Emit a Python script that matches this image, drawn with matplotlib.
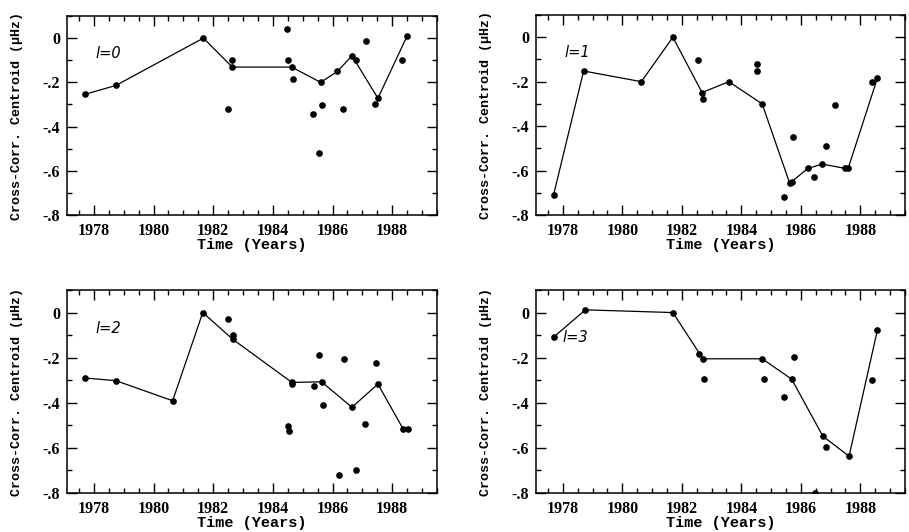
import matplotlib
matplotlib.use("Agg")
import matplotlib.pyplot as plt
from matplotlib.ticker import MultipleLocator, FixedLocator, FixedFormatter

# ---------------- data ----------------
labels = ["l=0", "l=1", "l=2", "l=3"]

l0_line_x = [1977.71, 1978.74, 1981.67, 1982.64, 1984.63, 1985.60, 1986.16, 1986.65, 1987.52, 1988.50]
l0_line_y = [-0.254, -0.214, 0.0, -0.131, -0.131, -0.20, -0.151, -0.08, -0.272, 0.01]
l0_pts_x = [1982.51, 1982.64, 1984.48, 1984.51, 1984.66, 1985.35, 1985.54, 1985.66,
            1986.35, 1986.77, 1987.11, 1987.41, 1988.34]
l0_pts_y = [-0.322, -0.10, 0.041, -0.10, -0.183, -0.341, -0.521, -0.302,
            -0.322, -0.10, -0.011, -0.299, -0.10]

l1_line_x = [1977.69, 1978.70, 1980.64, 1981.70, 1982.68, 1983.58, 1984.70, 1985.62, 1985.69,
             1986.24, 1986.72, 1987.48, 1987.59, 1988.57]
l1_line_y = [-0.71, -0.152, -0.20, 0.0, -0.249, -0.20, -0.30, -0.655, -0.65,
             -0.59, -0.571, -0.59, -0.59, -0.185]
l1_pts_x = [1982.55, 1982.71, 1984.52, 1984.54, 1985.43, 1985.73, 1986.44, 1986.83, 1987.14, 1988.38]
l1_pts_y = [-0.102, -0.28, -0.122, -0.152, -0.718, -0.45, -0.63, -0.49, -0.305, -0.20]

l2_line_x = [1977.69, 1978.74, 1980.64, 1981.65, 1982.66, 1984.64, 1985.63, 1986.65, 1987.52,
             1988.36, 1988.52]
l2_line_y = [-0.29, -0.302, -0.391, 0.0, -0.119, -0.31, -0.307, -0.42, -0.317, -0.515, -0.515]
l2_pts_x = [1982.50, 1982.66, 1984.49, 1984.54, 1984.64, 1985.37, 1985.54, 1985.67,
            1986.21, 1986.37, 1986.79, 1987.10, 1987.44]
l2_pts_y = [-0.03, -0.098, -0.503, -0.525, -0.317, -0.327, -0.1875, -0.408,
            -0.719, -0.208, -0.70, -0.496, -0.225]

l3_line_x = [1977.71, 1978.76, 1981.70, 1982.71, 1984.70, 1985.69, 1986.74, 1987.62, 1988.57]
l3_line_y = [-0.107, 0.012, 0.0, -0.205, -0.205, -0.295, -0.548, -0.637, -0.079]
l3_pts_x = [1982.57, 1982.73, 1984.75, 1985.43, 1985.77, 1986.47, 1986.86, 1988.40]
l3_pts_y = [-0.183, -0.295, -0.295, -0.376, -0.196, -0.80, -0.598, -0.298]

xtick_vals = [1978, 1980, 1982, 1984, 1986, 1988]
xtick_labels = ["1978", "1980", "1982", "1984", "1986", "1988"]
ytick_vals = [0.0, -0.2, -0.4, -0.6, -0.8]
ytick_labels = ["0", "-.2", "-.4", "-.6", "-.8"]

xlabel = "Time (Years)"
ylabel = "Cross-Corr. Centroid (\u03bcHz)"

# ---------------- layout ----------------
W, H = 909, 532
fig = plt.figure(figsize=(W / 100, H / 100), dpi=100)

def rect(l, r, t, b):
    return [l / W, (H - b) / H, (r - l) / W, (b - t) / H]

panels = [
    (rect(67, 437, 16, 215), l0_line_x, l0_line_y, l0_pts_x, l0_pts_y, labels[0], (1978.05, -0.07)),
    (rect(536, 905, 15, 215), l1_line_x, l1_line_y, l1_pts_x, l1_pts_y, labels[1], (1978.05, -0.07)),
    (rect(67, 437, 290, 493), l2_line_x, l2_line_y, l2_pts_x, l2_pts_y, labels[2], (1978.05, -0.07)),
    (rect(536, 905, 290, 493), l3_line_x, l3_line_y, l3_pts_x, l3_pts_y, labels[3], (1978.0, -0.11)),
]

for r, lx, ly, px, py, lab, tpos in panels:
    ax = fig.add_axes(r)
    ax.plot(lx, ly, color="black", lw=0.9, marker="o", ms=3.8, zorder=3)
    ax.plot(px, py, linestyle="none", color="black", marker="o", ms=3.8, zorder=3)
    ax.set_xlim(1977.1, 1989.5)
    ax.set_ylim(-0.8, 0.1)
    ax.xaxis.set_major_locator(FixedLocator(xtick_vals))
    ax.xaxis.set_major_formatter(FixedFormatter(xtick_labels))
    ax.xaxis.set_minor_locator(MultipleLocator(0.5))
    ax.yaxis.set_major_locator(FixedLocator(ytick_vals))
    ax.yaxis.set_major_formatter(FixedFormatter(ytick_labels))
    ax.yaxis.set_minor_locator(MultipleLocator(0.1))
    ax.tick_params(which="both", direction="in", top=True, right=True, width=1.0, color="black")
    ax.tick_params(which="major", length=7)
    ax.tick_params(axis="x", which="major", pad=6)
    ax.tick_params(axis="y", which="major", pad=5)
    ax.tick_params(which="minor", length=3.5)
    for lbl in ax.get_xticklabels() + ax.get_yticklabels():
        lbl.set_fontfamily("Liberation Serif")
        lbl.set_fontsize(11.5)
        lbl.set_fontweight("bold")
    for sp in ax.spines.values():
        sp.set_linewidth(1.1)
    ax.set_xlabel(xlabel, family="Liberation Mono", fontsize=11, fontweight="bold", labelpad=-1)
    ax.set_ylabel(ylabel, family="Liberation Mono", fontsize=9.6, fontweight="bold", labelpad=14)
    ax.text(tpos[0], tpos[1], lab, fontsize=10.5, style="italic", family="DejaVu Sans",
            ha="left", va="center")

fig.savefig("out.png", dpi=100)
